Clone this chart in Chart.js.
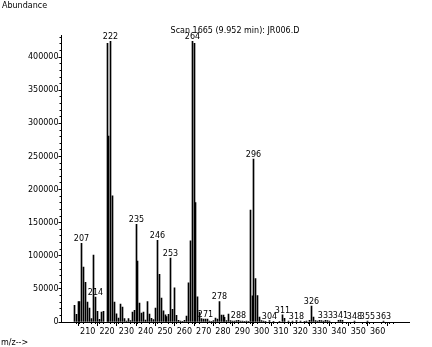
<!DOCTYPE html>
<html>
<head>
<meta charset="utf-8">
<script src="https://cdn.jsdelivr.net/npm/chart.js@4/dist/chart.umd.min.js"></script>
<style>
  html, body { margin: 0; padding: 0; background: #fff; }
  canvas { display: block; }
</style>
</head>
<body>
<canvas id="spectrum" width="432" height="347"></canvas>
<script>
// Mass spectrum of scan 1665 (9.952 min), file JR006.D
const massValues = [
  203, 204, 205, 206, 207, 208, 209, 210, 211, 212, 213, 214, 215, 216, 217, 218,
  220, 221, 222, 223, 224, 225, 226, 227, 228, 229, 230, 231, 232, 233, 234, 235,
  236, 237, 238, 239, 240, 241, 242, 243, 244, 245, 246, 247, 248, 249, 250, 251,
  252, 253, 254, 255, 256, 257, 258, 259, 260, 261, 262, 263, 264, 265, 266, 267,
  268, 269, 270, 271, 272, 273, 274, 275, 276, 277, 278, 279, 280, 281, 282, 283,
  284, 285, 286, 287, 288, 289, 290, 291, 292, 293, 294, 295, 296, 297, 298, 299,
  300, 301, 302, 304, 306, 309, 311, 312, 314, 316, 318, 320, 322, 323, 325, 326,
  327, 328, 329, 330, 331, 332, 333, 334, 335, 340, 341, 342, 348, 355, 363
];
const abundanceValues = [
  25000, 11500, 31000, 31000, 119000, 83000, 60000, 30000, 21000, 5000, 101000, 37500, 16000, 4000, 15000, 16000,
  421000, 281000, 424000, 190500, 30000, 12500, 6000, 27000, 22500, 5000, 1500, 5000, 2000, 15000, 17500, 147500,
  92000, 28500, 13500, 15000, 3000, 31000, 12000, 5500, 3500, 21000, 123500, 72000, 36000, 17000, 11000, 8000,
  11500, 96500, 19000, 51500, 10000, 2500, 1500, 1000, 2500, 9000, 59000, 122500, 424000, 421000, 180500, 38000,
  15000, 5000, 4500, 4500, 4500, 1500, 1000, 2000, 6000, 4500, 31000, 10500, 10500, 7000, 2000, 12000,
  2000, 1500, 1500, 2000, 2500, 1500, 1500, 1000, 1500, 1000, 169000, 39500, 246000, 65500, 40000, 7500,
  2000, 1500, 1000, 2000, 1000, 1000, 11000, 5500, 1500, 1500, 2000, 1500, 1000, 1500, 2500, 24000,
  7500, 2000, 1500, 2500, 2000, 1500, 2500, 2000, 1500, 2500, 3000, 2500, 1500, 1500, 1500
];
// Peaks annotated with their m/z
const labelledPeaks = [207, 214, 222, 235, 246, 253, 264, 271, 278, 288, 296, 304, 311, 318, 326, 333, 341, 348, 355, 363];
// Axis tick labels
const xTickLabels = ['210', '220', '230', '240', '250', '260', '270', '280', '290', '300', '310', '320', '330', '340', '350', '360'];
const yTickLabels = ['0', '50000', '100000', '150000', '200000', '250000', '300000', '350000', '400000'];

const FONT = '"DejaVu Sans", sans-serif';

const points = massValues.map((m, i) => ({ x: m, y: abundanceValues[i] }));

// Snap the 1px bars onto whole pixels so they stay crisp
const crispBars = {
  id: 'crispBars',
  beforeDatasetsDraw(chart) {
    chart.getDatasetMeta(0).data.forEach(el => {
      el.x = Math.round(el.x - 0.5) + 0.5;
    });
  }
};

// m/z annotations above selected peaks
const peakLabels = {
  id: 'peakLabels',
  afterDatasetsDraw(chart) {
    const { ctx } = chart;
    const meta = chart.getDatasetMeta(0);
    ctx.save();
    ctx.font = '8px ' + FONT;
    ctx.fillStyle = '#000';
    ctx.textAlign = 'center';
    ctx.textBaseline = 'alphabetic';
    meta.data.forEach((el, i) => {
      if (labelledPeaks.includes(massValues[i])) {
        ctx.fillText(String(massValues[i]), el.x, el.y - 2);
      }
    });
    ctx.restore();
  }
};

// Short minor ticks between the labelled ones
const minorTicks = {
  id: 'minorTicks',
  afterDraw(chart) {
    const { ctx } = chart;
    const x = chart.scales.x, y = chart.scales.y;
    ctx.save();
    ctx.strokeStyle = '#000';
    ctx.lineWidth = 1;
    ctx.beginPath();
    for (let v = 10000; v <= y.max; v += 10000) {
      if (v % 50000 === 0) continue;
      const py = Math.round(y.getPixelForValue(v) - 0.5) + 0.5;
      ctx.moveTo(y.right - 2, py);
      ctx.lineTo(y.right, py);
    }
    for (let m = Math.ceil(x.min / 2) * 2; m <= x.max; m += 2) {
      if (m % 10 === 0) continue;
      const px = Math.round(x.getPixelForValue(m) - 0.5) + 0.5;
      ctx.moveTo(px, x.top);
      ctx.lineTo(px, x.top + 2);
    }
    ctx.stroke();
    ctx.restore();
  }
};

// Header, abundance caption and m/z caption
const captions = {
  id: 'captions',
  afterDraw(chart) {
    const { ctx } = chart;
    ctx.save();
    ctx.font = '8px ' + FONT;
    ctx.fillStyle = '#000';
    ctx.textBaseline = 'alphabetic';
    ctx.textAlign = 'left';
    ctx.fillText('Abundance', 2, 7.5);
    ctx.fillText('m/z-->', 1, 345);
    ctx.textAlign = 'center';
    ctx.fillText('Scan 1665 (9.952 min): JR006.D', 235, 33);
    ctx.restore();
  }
};

new Chart(document.getElementById('spectrum'), {
  type: 'bar',
  data: {
    datasets: [{
      data: points,
      backgroundColor: '#000',
      borderWidth: 0,
      barThickness: 1
    }]
  },
  options: {
    responsive: false,
    animation: false,
    devicePixelRatio: 1,
    layout: { padding: { left: 0, right: 23, top: 35, bottom: 0 } },
    plugins: {
      legend: { display: false },
      tooltip: { enabled: false },
      title: { display: false }
    },
    scales: {
      x: {
        type: 'linear',
        min: 202.07,
        max: 370.6,
        afterBuildTicks: s => { s.ticks = xTickLabels.map(t => ({ value: Number(t) })); },
        afterFit: s => { s.height = 25; },
        grid: { drawOnChartArea: false, drawTicks: true, tickLength: 4, tickColor: '#000', color: '#000' },
        border: { display: true, color: '#000', width: 1 },
        ticks: {
          autoSkip: false,
          maxRotation: 0,
          padding: 1,
          color: '#000',
          font: { family: FONT, size: 8 },
          callback: v => String(v)
        }
      },
      y: {
        type: 'linear',
        min: 0,
        max: 433500,
        afterBuildTicks: s => { s.ticks = yTickLabels.map(t => ({ value: Number(t) })); },
        afterFit: s => { s.width = 61.5; },
        grid: { drawOnChartArea: false, drawTicks: true, tickLength: 3, tickColor: '#000', color: '#000' },
        border: { display: true, color: '#000', width: 1 },
        ticks: {
          autoSkip: false,
          padding: 0,
          color: '#000',
          font: { family: FONT, size: 8 },
          callback: v => String(v)
        }
      }
    }
  },
  plugins: [crispBars, peakLabels, minorTicks, captions]
});
</script>
</body>
</html>
